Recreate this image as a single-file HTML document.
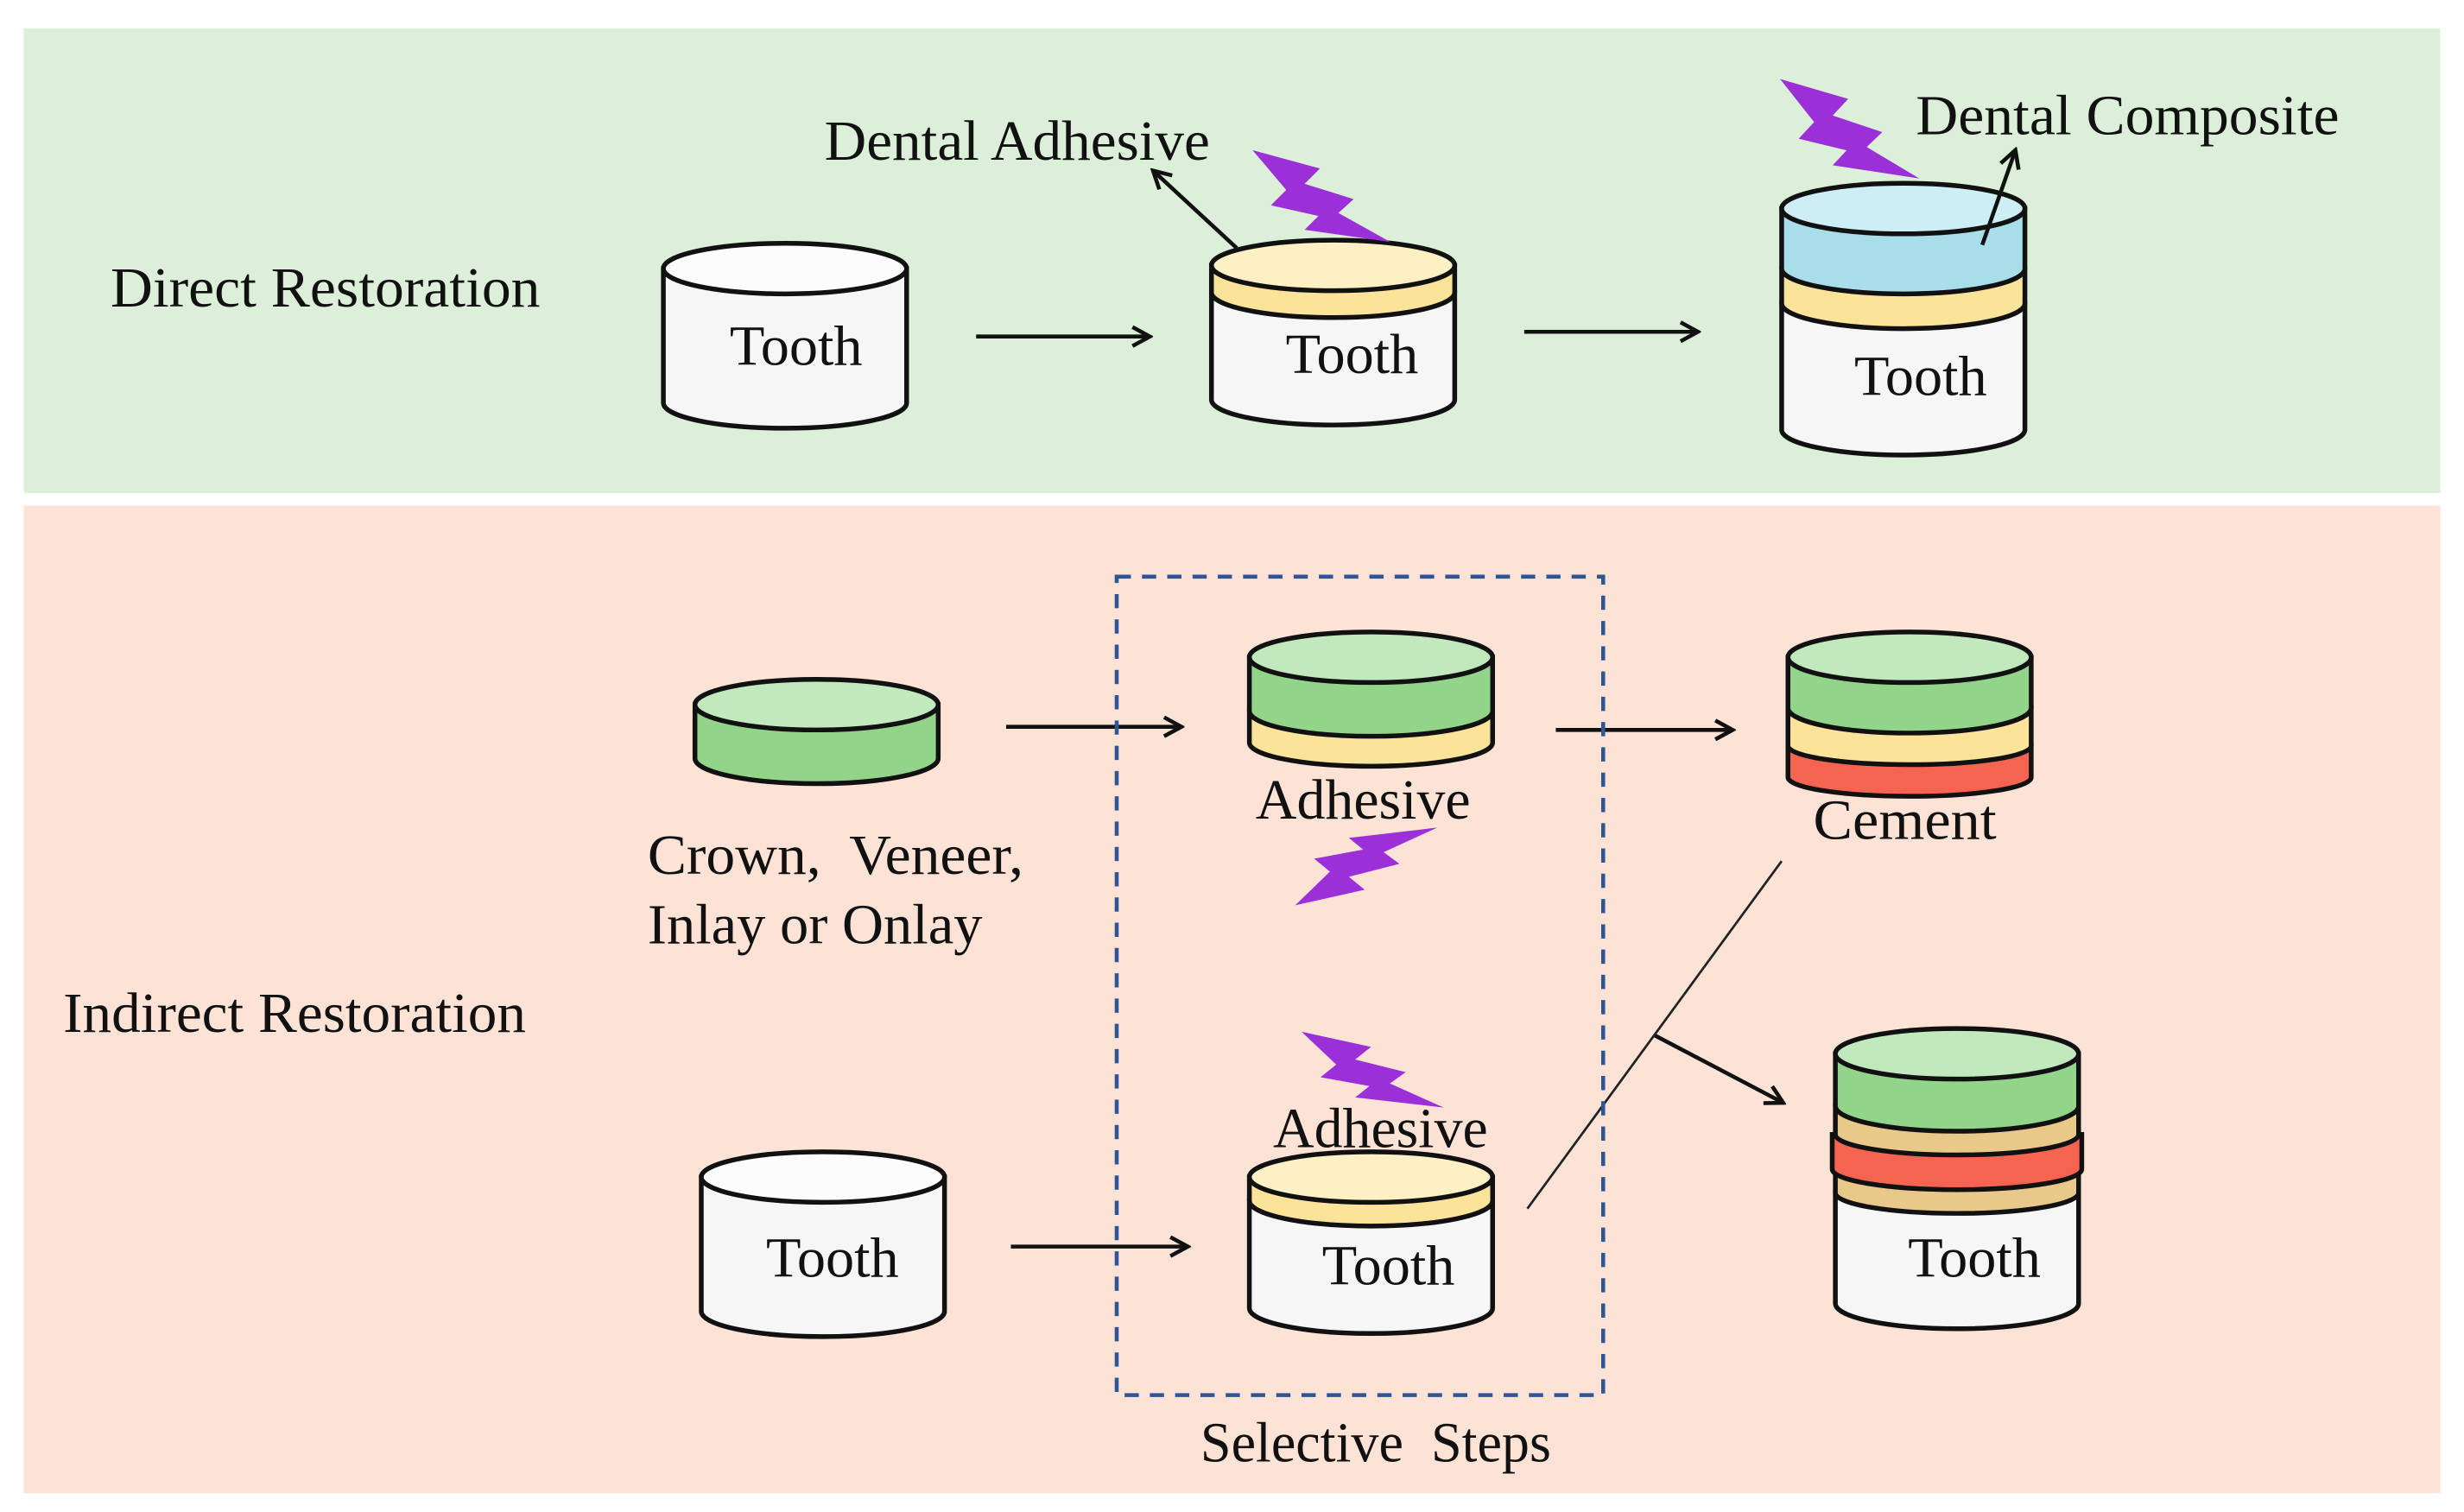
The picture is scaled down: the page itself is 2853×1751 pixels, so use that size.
<!DOCTYPE html>
<html><head><meta charset="utf-8"><style>html,body{margin:0;padding:0;background:#fff}svg{display:block}text{font-family:"Liberation Serif",serif;fill:#111}</style></head>
<body>
<svg width="2853" height="1751" viewBox="0 0 1560 957" preserveAspectRatio="none" xmlns="http://www.w3.org/2000/svg">
<defs>
<marker id="ah" markerWidth="14" markerHeight="14" refX="12" refY="7" orient="auto" markerUnits="userSpaceOnUse"><path d="M1,1 L12,7 L1,13" fill="none" stroke="#111" stroke-width="2.5"/></marker>
<g id="bolt"><path d="M0,0 L44,12 L34,22 L66,32 L56,41 L90,60 L34,52 L43,43 L12,36 L22,26 Z" fill="#9b30d9"/></g>
</defs>
<rect width="1560" height="957" fill="#fff"/>
<rect x="15" y="18" width="1530" height="294" fill="#dcefd9"/>
<rect x="15" y="320" width="1530" height="625" fill="#fde3d6"/>

<g stroke="#111" stroke-width="3">
<path d="M420,170 L420,255 A77,16 0 0 0 574,255 L574,170 Z" fill="#f6f6f6"/>
<ellipse cx="497" cy="170" rx="77" ry="16" fill="#fcfcfc"/>
<path d="M767,185 L767,253 A77,16 0 0 0 921,253 L921,185 Z" fill="#f6f6f6"/>
<path d="M767,168 L767,185 A77,16 0 0 0 921,185 L921,168 Z" fill="#fbe39a"/>
<ellipse cx="844" cy="168" rx="77" ry="16" fill="#fdf0c4"/>
<path d="M1128,192 L1128,272 A77,16 0 0 0 1282,272 L1282,192 Z" fill="#f6f6f6"/>
<path d="M1128,170 L1128,192 A77,16 0 0 0 1282,192 L1282,170 Z" fill="#fbe39a"/>
<path d="M1128,132 L1128,170 A77,16 0 0 0 1282,170 L1282,132 Z" fill="#a8dde9"/>
<ellipse cx="1205" cy="132" rx="77" ry="16" fill="#cdeef4"/>
<path d="M440,446 L440,480 A77,16 0 0 0 594,480 L594,446 Z" fill="#93d48b"/>
<ellipse cx="517" cy="446" rx="77" ry="16" fill="#c2e8bd"/>
<path d="M791,450 L791,470 A77,15 0 0 0 945,470 L945,450 Z" fill="#fbe39a"/>
<path d="M791,416 L791,450 A77,16 0 0 0 945,450 L945,416 Z" fill="#93d48b"/>
<ellipse cx="868" cy="416" rx="77" ry="16" fill="#c2e8bd"/>
<path d="M1132,472 L1132,492 A77,12 0 0 0 1286,492 L1286,472 Z" fill="#f56450"/>
<path d="M1132,448 L1132,472 A77,12 0 0 0 1286,472 L1286,448 Z" fill="#fbe39a"/>
<path d="M1132,416 L1132,448 A77,16 0 0 0 1286,448 L1286,416 Z" fill="#93d48b"/>
<ellipse cx="1209" cy="416" rx="77" ry="16" fill="#c2e8bd"/>
<path d="M444,745 L444,830 A77,16 0 0 0 598,830 L598,745 Z" fill="#f6f6f6"/>
<ellipse cx="521" cy="745" rx="77" ry="16" fill="#fcfcfc"/>
<path d="M791,760 L791,828 A77,16 0 0 0 945,828 L945,760 Z" fill="#f6f6f6"/>
<path d="M791,745 L791,760 A77,16 0 0 0 945,760 L945,745 Z" fill="#fbe39a"/>
<ellipse cx="868" cy="745" rx="77" ry="16" fill="#fdf0c4"/>
<path d="M1162,755 L1162,825 A77,16 0 0 0 1316,825 L1316,755 Z" fill="#f6f6f6"/>
<path d="M1162,740 L1162,755 A77,13 0 0 0 1316,755 L1316,740 Z" fill="#e8c98a"/>
<path d="M1160,718 L1160,740 A79,13 0 0 0 1318,740 L1318,718 Z" fill="#f56450"/>
<path d="M1162,700 L1162,718 A77,13 0 0 0 1316,718 L1316,700 Z" fill="#e8c98a"/>
<path d="M1162,667 L1162,700 A77,16 0 0 0 1316,700 L1316,667 Z" fill="#93d48b"/>
<ellipse cx="1239" cy="667" rx="77" ry="16" fill="#c2e8bd"/>
</g>

<use href="#bolt" transform="translate(793,95) scale(0.97)"/>
<use href="#bolt" transform="translate(1127,50) scale(0.98,1.05)"/>
<use href="#bolt" transform="translate(820,573) scale(1,-0.82)"/>
<use href="#bolt" transform="translate(824,653) scale(1,0.8)"/>

<g stroke="#111" stroke-width="2.5" fill="none" marker-end="url(#ah)">
<line x1="618" y1="213" x2="728" y2="213"/>
<line x1="965" y1="210" x2="1075" y2="210"/>
<line x1="783" y1="157" x2="730" y2="108"/>
<line x1="1255" y1="155" x2="1276" y2="95"/>
<line x1="637" y1="460" x2="748" y2="460"/>
<line x1="985" y1="462" x2="1097" y2="462"/>
<line x1="640" y1="789" x2="752" y2="789"/>
<line x1="1047" y1="655" x2="1129" y2="698"/>
</g>
<line x1="1128" y1="545" x2="967" y2="765" stroke="#222" stroke-width="1.5"/>
<rect x="707" y="365" width="308" height="518" fill="none" stroke="#2f5597" stroke-width="2.5" stroke-dasharray="9,7"/>

<g font-size="36">
<text x="70" y="194" textLength="272" lengthAdjust="spacingAndGlyphs">Direct Restoration</text>
<text x="522" y="101" textLength="244" lengthAdjust="spacingAndGlyphs">Dental Adhesive</text>
<text x="1213" y="85" textLength="268" lengthAdjust="spacingAndGlyphs">Dental Composite</text>
<text x="462" y="231" textLength="84" lengthAdjust="spacingAndGlyphs">Tooth</text>
<text x="814" y="236" textLength="84" lengthAdjust="spacingAndGlyphs">Tooth</text>
<text x="1174" y="250" textLength="84" lengthAdjust="spacingAndGlyphs">Tooth</text>
<text x="40" y="653" textLength="293" lengthAdjust="spacingAndGlyphs">Indirect Restoration</text>
<text x="410" y="553" textLength="238" lengthAdjust="spacingAndGlyphs" xml:space="preserve">Crown,  Veneer,</text>
<text x="410" y="597" textLength="212" lengthAdjust="spacingAndGlyphs">Inlay or Onlay</text>
<text x="795" y="518" textLength="136" lengthAdjust="spacingAndGlyphs">Adhesive</text>
<text x="1148" y="531" textLength="116" lengthAdjust="spacingAndGlyphs">Cement</text>
<text x="806" y="726" textLength="136" lengthAdjust="spacingAndGlyphs">Adhesive</text>
<text x="485" y="808" textLength="84" lengthAdjust="spacingAndGlyphs">Tooth</text>
<text x="837" y="813" textLength="84" lengthAdjust="spacingAndGlyphs">Tooth</text>
<text x="1208" y="808" textLength="84" lengthAdjust="spacingAndGlyphs">Tooth</text>
<text x="760" y="925" textLength="222" lengthAdjust="spacingAndGlyphs" xml:space="preserve">Selective  Steps</text>
</g>
</svg>
</body></html>
